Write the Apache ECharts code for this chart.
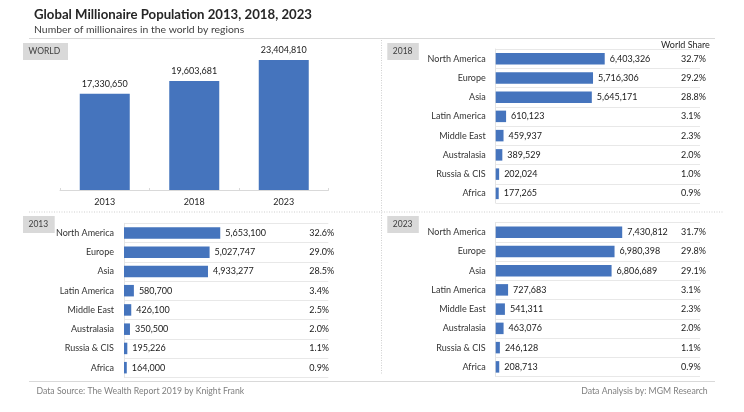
<!DOCTYPE html>
<html><head><meta charset="utf-8">
<style>html,body{margin:0;padding:0;background:#fff}#c{width:744px;height:412px}</style>
<script src="https://cdn.jsdelivr.net/npm/echarts@6/dist/echarts.min.js"></script>
</head><body><div id="c"></div>
<script>
const worldYears = ['2013', '2018', '2023'];
const worldValues = [17330650, 19603681, 23404810];
const regions = ['North America', 'Europe', 'Asia', 'Latin America', 'Middle East', 'Australasia', 'Russia & CIS', 'Africa'];
const values2018 = [6403326, 5716306, 5645171, 610123, 459937, 389529, 202024, 177265];
const share2018 = ['32.7%', '29.2%', '28.8%', '3.1%', '2.3%', '2.0%', '1.0%', '0.9%'];
const values2013 = [5653100, 5027747, 4933277, 580700, 426100, 350500, 195226, 164000];
const share2013 = ['32.6%', '29.0%', '28.5%', '3.4%', '2.5%', '2.0%', '1.1%', '0.9%'];
const values2023 = [7430812, 6980398, 6806689, 727683, 541311, 463076, 246128, 208713];
const share2023 = ['31.7%', '29.8%', '29.1%', '3.1%', '2.3%', '2.0%', '1.1%', '0.9%'];

const FONT = 'Lato';
const BLUE = '#4574bd';
const fmt = v => v.toLocaleString('en-US');
const chart = echarts.init(document.getElementById('c'), null, {renderer: 'canvas'});

const grids = [{left: 60, width: 268.5, top: 51.1, height: 138.9}];
const xAxes = [{gridIndex: 0, type: 'category', data: worldYears,
  axisLine: {lineStyle: {color: '#d9d9d9'}}, axisTick: {show: true, inside: true, length: 2, lineStyle: {color: '#d9d9d9'}},
  axisLabel: {color: '#262626', fontFamily: FONT, fontSize: 9, margin: 8}}];
const yAxes = [{gridIndex: 0, type: 'value', min: 0, max: 25000000, show: false}];
const series = [{type: 'bar', xAxisIndex: 0, yAxisIndex: 0, data: worldValues, barWidth: 50,
  itemStyle: {color: BLUE},
  label: {show: true, position: 'top', distance: 5, formatter: p => fmt(p.value), color: '#1a1a1a', fontFamily: FONT, fontSize: 9}}];

function panel(vals, shares, left, top) {
  const i = grids.length;
  grids.push({left, top, width: 204.3, height: 154});
  xAxes.push({gridIndex: i, type: 'value', min: 0, max: 12000000, show: false});
  const yi = yAxes.length;
  yAxes.push({gridIndex: i, type: 'category', data: regions, inverse: true,
    axisLine: {show: true, lineStyle: {color: '#e4e4e4'}}, axisTick: {show: false},
    splitLine: {show: true, lineStyle: {color: '#e8e8e8', width: 1}},
    axisLabel: {color: '#333333', fontFamily: FONT, fontSize: 9, margin: 10}});
  yAxes.push({gridIndex: i, type: 'category', position: 'right', data: shares, inverse: true,
    axisLine: {show: false}, axisTick: {show: false}, splitLine: {show: false},
    axisLabel: {color: '#1a1a1a', fontFamily: FONT, fontSize: 9, margin: -19, align: 'left'}});
  series.push({type: 'bar', xAxisIndex: i, yAxisIndex: yi, data: vals, barWidth: 11.5,
    itemStyle: {color: BLUE},
    label: {show: true, position: 'right', distance: 5, formatter: p => fmt(p.value), color: '#1a1a1a', fontFamily: FONT, fontSize: 9}});
}
panel(values2018, share2018, 495.7, 49);
panel(values2013, share2013, 124, 223.3);
panel(values2023, share2023, 495.7, 222.5);

const rule = (x1, y1, x2, y2, extra) => ({type: 'line', shape: {x1, y1, x2, y2}, silent: true,
  style: Object.assign({stroke: '#d9d9d9', lineWidth: 1}, extra || {})});
const dotted = {stroke: '#cfcfcf', lineDash: [1, 1.5]};
const box = (x, y, w, t) => [
  {type: 'rect', shape: {x, y, width: w, height: 17}, silent: true, style: {fill: '#d9d9d9'}},
  {type: 'text', x: x + 5.5, y: y + 8.5, silent: true, style: {text: t, fill: '#404040', font: '8.5px ' + FONT, textVerticalAlign: 'middle'}}
];
const text = (x, y, t, font, fill, align) => ({type: 'text', x, y, silent: true,
  style: {text: t, font: font + ' ' + FONT, fill, textAlign: align || 'left', textVerticalAlign: 'middle'}});

chart.setOption({
  animation: false,
  backgroundColor: '#fff',
  grid: grids, xAxis: xAxes, yAxis: yAxes, series,
  graphic: {elements: [
    text(34, 14.5, 'Global Millionaire Population 2013, 2018, 2023', 'bold 13.2px', '#262626'),
    text(34, 29.5, 'Number of millionaires in the world by regions', '10.4px', '#404040'),
    rule(29, 38.5, 715, 38.5),
    rule(381.5, 40, 381.5, 375, dotted),
    rule(29, 212, 723, 212, dotted),
    rule(29, 381.5, 715, 381.5),
    ...box(23, 43, 45, 'WORLD'),
    ...box(387.3, 43, 31.5, '2018'),
    ...box(23, 216, 31.7, '2013'),
    ...box(387.3, 216, 31.5, '2023'),
    text(661, 44.7, 'World Share', '9px', '#262626'),
    text(36.5, 391, 'Data Source: The Wealth Report 2019 by Knight Frank', '8.7px', '#808080'),
    text(707.7, 391, 'Data Analysis by: MGM Research', '8.7px', '#808080', 'right')
  ]}
});
</script></body></html>
